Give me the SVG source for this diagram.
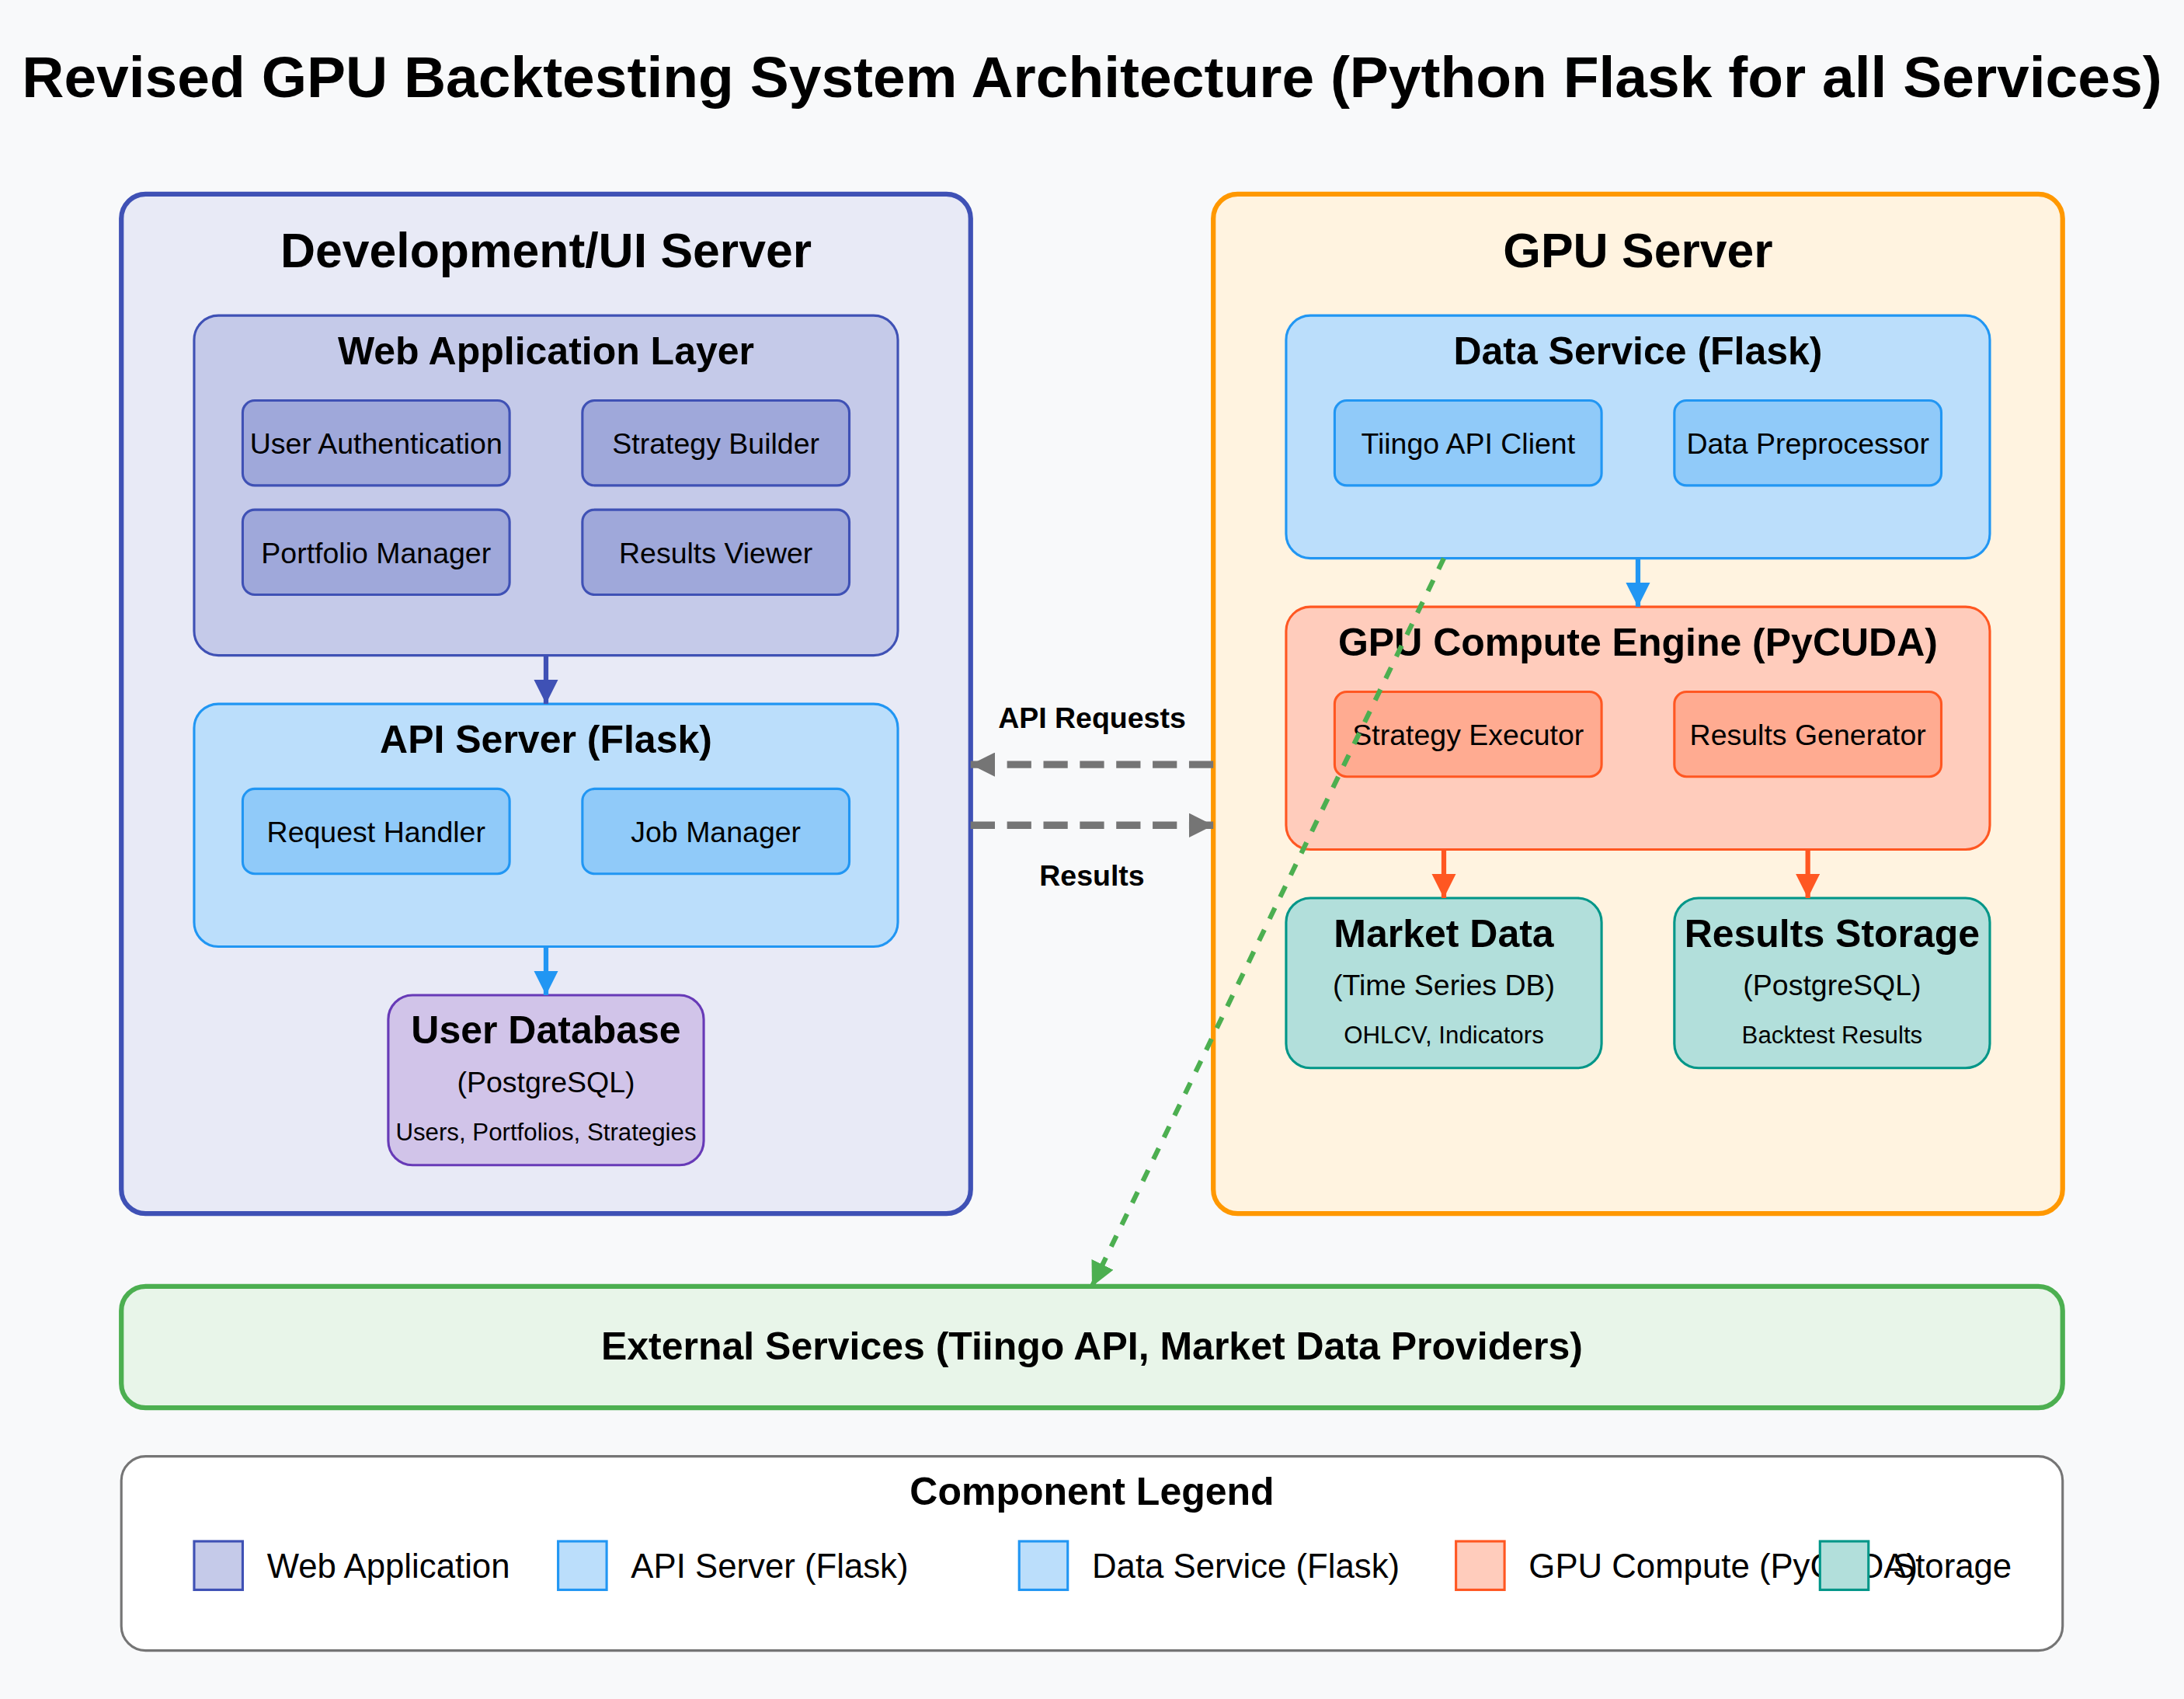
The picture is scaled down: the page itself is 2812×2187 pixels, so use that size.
<svg xmlns="http://www.w3.org/2000/svg" width="2812" height="2187" viewBox="0 0 2812 2187">
<style>
text { font-family: "Liberation Sans", Arial, sans-serif; fill: #000; }
.t24 { font-size: 24px; font-weight: bold; text-anchor: middle; }
.t20 { font-size: 20px; font-weight: bold; text-anchor: middle; }
.t16 { font-size: 16px; font-weight: bold; text-anchor: middle; }
.t12 { font-size: 12px; text-anchor: middle; }
.t12b { font-size: 12px; font-weight: bold; text-anchor: middle; }
.t10 { font-size: 10px; text-anchor: middle; }
.leg { font-size: 14px; }
.web { fill: #C5CAE9; stroke: #3F51B5; stroke-width: 1; }
.websub { fill: #9FA8DA; stroke: #3F51B5; stroke-width: 1; }
.api { fill: #BBDEFB; stroke: #2196F3; stroke-width: 1; }
.apisub { fill: #90CAF9; stroke: #2196F3; stroke-width: 1; }
.gpu { fill: #FFCCBC; stroke: #FF5722; stroke-width: 1; }
.gpusub { fill: #FFAB91; stroke: #FF5722; stroke-width: 1; }
.store { fill: #B2DFDB; stroke: #009688; stroke-width: 1; }
.userdb { fill: #D1C4E9; stroke: #673AB7; stroke-width: 1; }
</style>
<defs>
<marker id="ah-indigo" markerUnits="userSpaceOnUse" markerWidth="10" markerHeight="10" refX="10" refY="5" orient="auto"><path d="M0,0 L10,5 L0,10 Z" fill="#3F51B5"/></marker>
<marker id="ah-blue" markerUnits="userSpaceOnUse" markerWidth="10" markerHeight="10" refX="10" refY="5" orient="auto"><path d="M0,0 L10,5 L0,10 Z" fill="#2196F3"/></marker>
<marker id="ah-orange" markerUnits="userSpaceOnUse" markerWidth="10" markerHeight="10" refX="10" refY="5" orient="auto"><path d="M0,0 L10,5 L0,10 Z" fill="#FF5722"/></marker>
<marker id="ah-gray" markerUnits="userSpaceOnUse" markerWidth="10" markerHeight="10" refX="10" refY="5" orient="auto"><path d="M0,0 L10,5 L0,10 Z" fill="#757575"/></marker>
<marker id="ah-green" markerUnits="userSpaceOnUse" markerWidth="10" markerHeight="10" refX="10" refY="5" orient="auto"><path d="M0,0 L10,5 L0,10 Z" fill="#4CAF50"/></marker>
</defs>
<rect x="0" y="0" width="2812" height="2187" fill="#F8F9FA"/>
<g transform="scale(3.12438)">
  <text id="title" class="t24" x="450" y="40">Revised GPU Backtesting System Architecture (Python Flask for all Services)</text>

  <g id="dev-server">
    <rect x="50" y="80" width="350" height="420" rx="10" fill="#E8EAF6" stroke="#3F51B5" stroke-width="2"/>
    <text class="t20" x="225" y="110">Development/UI Server</text>
  </g>
  <g id="web-app-layer">
    <rect class="web" x="80" y="130" width="290" height="140" rx="10"/>
    <text class="t16" x="225" y="150">Web Application Layer</text>
  </g>
  <g id="user-auth"><rect class="websub" x="100" y="165" width="110" height="35" rx="5"/><text class="t12" x="155" y="187">User Authentication</text></g>
  <g id="strategy-builder"><rect class="websub" x="240" y="165" width="110" height="35" rx="5"/><text class="t12" x="295" y="187">Strategy Builder</text></g>
  <g id="portfolio-manager"><rect class="websub" x="100" y="210" width="110" height="35" rx="5"/><text class="t12" x="155" y="232">Portfolio Manager</text></g>
  <g id="results-viewer"><rect class="websub" x="240" y="210" width="110" height="35" rx="5"/><text class="t12" x="295" y="232">Results Viewer</text></g>

  <g id="api-server">
    <rect class="api" x="80" y="290" width="290" height="100" rx="10"/>
    <text class="t16" x="225" y="310">API Server (Flask)</text>
  </g>
  <g id="request-handler"><rect class="apisub" x="100" y="325" width="110" height="35" rx="5"/><text class="t12" x="155" y="347">Request Handler</text></g>
  <g id="job-manager"><rect class="apisub" x="240" y="325" width="110" height="35" rx="5"/><text class="t12" x="295" y="347">Job Manager</text></g>

  <g id="user-database">
    <rect class="userdb" x="160" y="410" width="130" height="70" rx="10"/>
    <text class="t16" x="225" y="430">User Database</text>
    <text class="t12" x="225" y="450">(PostgreSQL)</text>
    <text class="t10" x="225" y="470">Users, Portfolios, Strategies</text>
  </g>

  <g id="gpu-server">
    <rect x="500" y="80" width="350" height="420" rx="10" fill="#FFF3E0" stroke="#FF9800" stroke-width="2"/>
    <text class="t20" x="675" y="110">GPU Server</text>
  </g>
  <g id="data-service">
    <rect class="api" x="530" y="130" width="290" height="100" rx="10"/>
    <text class="t16" x="675" y="150">Data Service (Flask)</text>
  </g>
  <g id="tiingo-client"><rect class="apisub" x="550" y="165" width="110" height="35" rx="5"/><text class="t12" x="605" y="187">Tiingo API Client</text></g>
  <g id="data-preprocessor"><rect class="apisub" x="690" y="165" width="110" height="35" rx="5"/><text class="t12" x="745" y="187">Data Preprocessor</text></g>

  <g id="gpu-compute">
    <rect class="gpu" x="530" y="250" width="290" height="100" rx="10"/>
    <text class="t16" x="675" y="270">GPU Compute Engine (PyCUDA)</text>
  </g>
  <g id="strategy-executor"><rect class="gpusub" x="550" y="285" width="110" height="35" rx="5"/><text class="t12" x="605" y="307">Strategy Executor</text></g>
  <g id="results-generator"><rect class="gpusub" x="690" y="285" width="110" height="35" rx="5"/><text class="t12" x="745" y="307">Results Generator</text></g>

  <g id="market-data">
    <rect class="store" x="530" y="370" width="130" height="70" rx="10"/>
    <text class="t16" x="595" y="390">Market Data</text>
    <text class="t12" x="595" y="410">(Time Series DB)</text>
    <text class="t10" x="595" y="430">OHLCV, Indicators</text>
  </g>
  <g id="results-storage">
    <rect class="store" x="690" y="370" width="130" height="70" rx="10"/>
    <text class="t16" x="755" y="390">Results Storage</text>
    <text class="t12" x="755" y="410">(PostgreSQL)</text>
    <text class="t10" x="755" y="430">Backtest Results</text>
  </g>

  <g id="external-services">
    <rect x="50" y="530" width="800" height="50" rx="10" fill="#E8F5E9" stroke="#4CAF50" stroke-width="2"/>
    <text class="t16" x="450" y="560">External Services (Tiingo API, Market Data Providers)</text>
  </g>

  <g id="connectors" fill="none">
    <line x1="225" y1="270" x2="225" y2="290" stroke="#3F51B5" stroke-width="2" marker-end="url(#ah-indigo)"/>
    <line x1="225" y1="390" x2="225" y2="410" stroke="#2196F3" stroke-width="2" marker-end="url(#ah-blue)"/>
    <line x1="675" y1="230" x2="675" y2="250" stroke="#2196F3" stroke-width="2" marker-end="url(#ah-blue)"/>
    <line x1="595" y1="350" x2="595" y2="370" stroke="#FF5722" stroke-width="2" marker-end="url(#ah-orange)"/>
    <line x1="745" y1="350" x2="745" y2="370" stroke="#FF5722" stroke-width="2" marker-end="url(#ah-orange)"/>
    <line x1="500" y1="315" x2="400" y2="315" stroke="#757575" stroke-width="3" stroke-dasharray="10,5" marker-end="url(#ah-gray)"/>
    <line x1="400" y1="340" x2="500" y2="340" stroke="#757575" stroke-width="3" stroke-dasharray="10,5" marker-end="url(#ah-gray)"/>
    <line x1="595" y1="230" x2="450" y2="530" stroke="#4CAF50" stroke-width="2" stroke-dasharray="5,5" marker-end="url(#ah-green)"/>
    <text class="t12b" x="450" y="300">API Requests</text>
    <text class="t12b" x="450" y="365">Results</text>
  </g>

  <g id="legend">
    <rect x="50" y="600" width="800" height="80" rx="10" fill="#FFFFFF" stroke="#757575" stroke-width="1"/>
    <text class="t16" x="450" y="620">Component Legend</text>
    <rect class="web" x="80" y="635" width="20" height="20"/>
    <text class="leg" x="110" y="650">Web Application</text>
    <rect class="api" x="230" y="635" width="20" height="20"/>
    <text class="leg" x="260" y="650">API Server (Flask)</text>
    <rect class="api" x="420" y="635" width="20" height="20"/>
    <text class="leg" x="450" y="650">Data Service (Flask)</text>
    <rect class="gpu" x="600" y="635" width="20" height="20"/>
    <text class="leg" x="630" y="650">GPU Compute (PyCUDA)</text>
    <rect class="store" x="750" y="635" width="20" height="20"/>
    <text class="leg" x="780" y="650">Storage</text>
  </g>
</g>
</svg>
